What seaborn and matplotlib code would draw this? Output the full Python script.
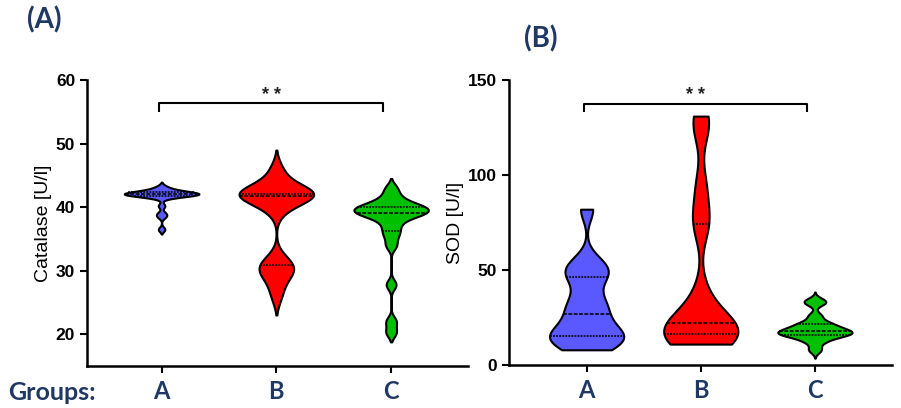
import numpy as np
import pandas as pd
import matplotlib
matplotlib.use('Agg')
import matplotlib.pyplot as plt
import seaborn as sns

groups = ['A', 'B', 'C']
colors = {'A': '#5959FF', 'B': '#FF0000', 'C': '#00C000'}
navy = '#1F3864'

cat_A = [36.5, 38.5, 39.0, 40.2, 41.5, 41.8, 41.8, 41.9, 42.0, 42.0,
         42.0, 42.0, 42.1, 42.2, 42.3, 42.3, 42.4, 42.6, 42.8, 43.2]
cat_B = [26.0, 28.0, 29.5, 30.0, 30.5, 31.0, 32.0, 39.5, 40.5, 41.8,
         41.8, 41.9, 42.0, 42.0, 42.1, 42.2, 42.3, 43.0, 44.5, 46.0]
cat_C = [20.3, 22.0, 27.8, 34.0, 35.5, 36.5, 37.5, 38.3, 38.8, 39.0,
         39.0, 39.3, 39.6, 39.8, 40.0, 40.2, 40.4, 41.0, 41.8, 43.0]

# SOD [U/l] observations per group
sod_A = [8, 10, 13, 14.5, 15.5, 17, 20, 25, 29, 32, 37, 46, 48, 51, 55, 82]
sod_B = [11, 12, 13.5, 15, 16.5, 18, 20, 21, 23, 28, 38, 72, 80, 95, 124, 131]
sod_C = [8, 12, 14, 15.5, 16, 16.5, 17, 17.5, 18.5, 19, 20, 21.5, 22.5, 26, 32.5, 34]

cat_bw = {'A': 0.4, 'B': 0.42, 'C': 0.22}
cat_cut = {'A': 2, 'B': 2, 'C': 2}
sod_bw = {'A': 0.5, 'B': 0.4, 'C': 0.45}
sod_cut = {'A': 0, 'B': 0, 'C': 2.5}


def to_long(a, b, c):
    rows = [(g, v) for g, vals in zip(groups, [a, b, c]) for v in vals]
    return pd.DataFrame(rows, columns=['group', 'value'])


cat = to_long(cat_A, cat_B, cat_C)
sod = to_long(sod_A, sod_B, sod_C)

sns.set_style('ticks', {'axes.edgecolor': 'black', 'xtick.color': 'black',
                        'ytick.color': 'black', 'text.color': 'black',
                        'axes.labelcolor': 'black'})
plt.rcParams['font.family'] = ['Liberation Sans', 'DejaVu Sans']

fig = plt.figure(figsize=(9.01, 4.08), dpi=100)
axA = fig.add_axes([87 / 901, 1 - 366 / 408, (468 - 87) / 901, (366 - 80) / 408])
axB = fig.add_axes([509 / 901, 1 - 365 / 408, (892 - 509) / 901, (365 - 80) / 408])


def draw(ax, df, bws, cuts):
    for g in groups:
        sns.violinplot(data=df[df['group'] == g], x='group', y='value', order=groups,
                       color=colors[g], bw_adjust=bws[g], cut=cuts[g], inner='quart',
                       density_norm='width', width=0.65, linewidth=1.5,
                       linecolor='black', saturation=1,
                       inner_kws=dict(linewidth=1.1), ax=ax)
    for sp in ['top', 'right']:
        ax.spines[sp].set_visible(False)
    for sp in ['left', 'bottom']:
        ax.spines[sp].set_linewidth(1.8)
    ax.tick_params(axis='both', width=1.5, length=5, direction='out', colors='black')
    ax.set_xlabel('')
    ax.set_xticks(range(3))
    ax.set_xticklabels(groups, color=navy, fontsize=17, fontweight='bold',
                       family=['Lato', 'DejaVu Sans'])
    ax.tick_params(axis='x', pad=5)


draw(axA, cat, cat_bw, cat_cut)
axA.set_xlim(-0.65, 2.67)
axA.set_ylim(15, 60)
axA.set_yticks([20, 30, 40, 50, 60])
for lab in axA.get_yticklabels():
    lab.set_fontweight('bold')
    lab.set_fontsize(12.5)
axA.set_ylabel('Catalase [U/l]', fontsize=14, labelpad=3)

draw(axB, sod, sod_bw, sod_cut)
axB.set_xlim(-0.68, 2.675)
axB.set_ylim(0, 150)
axB.set_yticks([0, 50, 100, 150])
for lab in axB.get_yticklabels():
    lab.set_fontweight('bold')
    lab.set_fontsize(12.5)
axB.set_ylabel('SOD [U/l]', fontsize=14, labelpad=3)

# significance brackets
def bracket(ax, x0, x1, y, h, ty, txt):
    ax.plot([x0, x0, x1, x1], [y - h, y, y, y - h], color='black', lw=1.5,
            clip_on=False, solid_capstyle='butt')
    ax.text((x0 + x1) / 2, ty, txt, ha='center', va='center',
            fontsize=13, fontweight='bold', color='#222222')

bracket(axA, -0.02, 1.93, 56.4, 1.4, 57.6, '* *')
bracket(axB, -0.02, 1.93, 137.5, 4.5, 142.0, '* *')

fig.text(27 / 901, 1 - 20 / 408, '(A)', fontsize=20, fontweight='bold', color=navy,
         ha='left', va='center', family=['Lato', 'DejaVu Sans'])
fig.text(524 / 901, 1 - 39 / 408, '(B)', fontsize=20, fontweight='bold', color=navy,
         ha='left', va='center', family=['Lato', 'DejaVu Sans'])
fig.text(8 / 901, 1 - 392 / 408, 'Groups:', fontsize=18, fontweight='bold', color=navy,
         ha='left', va='center', family=['Lato', 'DejaVu Sans'])

fig.savefig('out.png', dpi=100)
